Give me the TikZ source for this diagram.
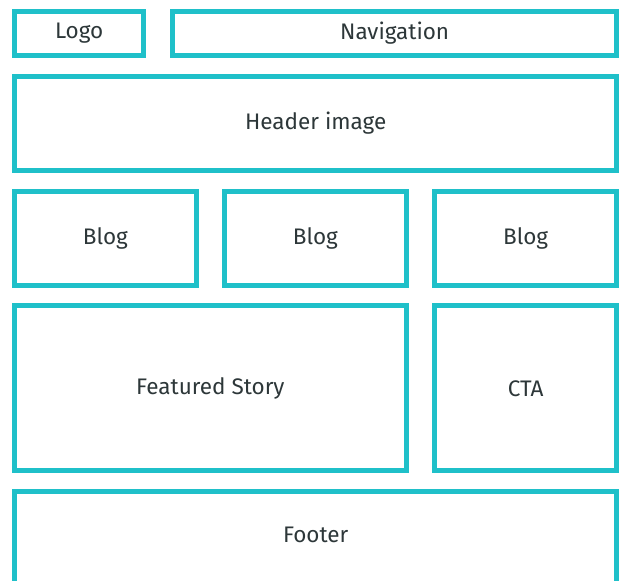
\documentclass[tikz,border=0pt]{standalone}
\usepackage{fontspec}
\setmainfont{Fira Sans}
\definecolor{teal}{RGB}{31,192,201}
\definecolor{ink}{RGB}{45,55,57}

\begin{document}
\begin{tikzpicture}[x=1pt,y=-1pt,
    block/.style={draw=teal,line width=5pt,fill=white,text=ink,
      inner sep=0pt,outer sep=0pt,font=\fontsize{22.5}{26}\selectfont}]
  \useasboundingbox (0,0) rectangle (624,581);

  \node[block,minimum width=129.3pt,minimum height=44.4pt] (logo) at (79.15,33.5) {Logo};
  \node[block,minimum width=444.3pt,minimum height=44.4pt] (nav) at (394.65,33.5) {Navigation};

  \node[block,minimum width=602.3pt,minimum height=93.7pt] (header) at (315.65,123.35) {Header image};

  \foreach \x/\name in {105.35/blogA,315.35/blogB,525.65/blogC}
    \node[block,minimum width=181.7pt,minimum height=94.3pt] (\name) at (\x,238.35) {Blog};

  \node[block,minimum width=391.7pt,minimum height=165pt] (story) at (210.35,388.3) {Featured Story};
  \node[block,minimum width=182.3pt,minimum height=165pt] (cta) at (525.65,388.3) {CTA};

  % runs off the bottom of the page
  \node[block,minimum width=602.3pt,minimum height=108.8pt,
    label={[text=ink,yshift=10.6pt,font=\fontsize{22.5}{26}\selectfont]center:Footer}] (footer) at (315.65,545.6) {};
\end{tikzpicture}
\end{document}
